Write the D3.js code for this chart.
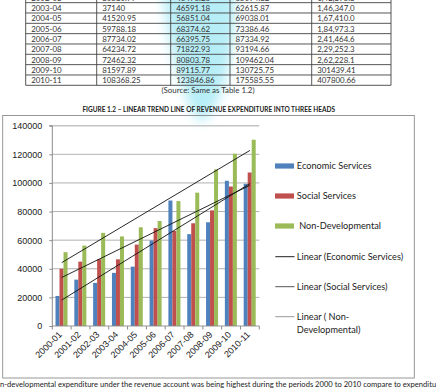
<!DOCTYPE html>
<html><head><meta charset="utf-8">
<script src="https://cdn.jsdelivr.net/npm/d3@7"></script>
<style>html,body{margin:0;padding:0;background:#fff;overflow:hidden}svg{display:block}</style>
</head><body>
<svg id="c" width="436" height="388"></svg>
<script>
// ---- table data ----
const tableYears = ["2002-03","2003-04","2004-05","2005-06","2006-07","2007-08","2008-09","2009-10","2010-11"];
const tableEcon = ["30830.77","37140","41520.95","59788.18","87734.02","64234.72","72462.32","81597.89","108368.25"];
const tableSocial = ["46470.26","46591.18","56851.04","68374.62","66395.75","71822.93","80803.78","89115.77","123846.86"];
const tableNonDev = ["65094.32","62615.87","69038.01","73386.46","87334.92","93194.66","109462.04","130725.75","175585.55"];
const tableTotal = ["1,42,395.3","1,46,347.0","1,67,410.0","1,84,973.3","2,41,464.6","2,29,252.3","2,62,228.1","301439.41","407800.66"];

// ---- chart data ----
const categories = ["2000-01","2001-02","2002-03","2003-04","2004-05","2005-06","2006-07","2007-08","2008-09","2009-10","2010-11"];
const seriesNames = ["Economic Services","Social Services","Non-Developmental"];
const econ   = [21000, 32400, 30100, 37140, 41500, 59800, 87700, 64200, 72500, 101500, 99400];
const social = [40000, 45000, 46700, 46600, 56900, 68400, 66400, 71800, 80800, 97500, 107300];
const nondev = [51600, 56200, 65100, 62600, 69000, 73400, 87300, 93200, 109500, 120400, 130200];
const yTicks = [0, 20000, 40000, 60000, 80000, 100000, 120000, 140000];
const legendLabels = ["Economic Services","Social Services"," Non-Developmental","Linear (Economic Services)","Linear (Social Services)","Linear ( Non-|Developmental)"];

const colors = ["#4F81BD","#C0504D","#9BBB59"];
const svg = d3.select("#c");

// watermark
const defs = svg.append("defs");
defs.append("filter").attr("id","blur").append("feGaussianBlur").attr("stdDeviation",6);
svg.append("path")
  .attr("d","M163,-10 L235,-10 C236,30 232,60 222,90 C214,112 205,122 200,122 C194,115 186,100 180,80 C170,50 165,20 163,-10 Z")
  .attr("fill","#9fe8f4").attr("opacity",0.75).attr("filter","url(#blur)");

// ---- table ----
const colX = [25.7, 96.7, 170.7, 230, 311.7, 391];
const rowH = 10.33, tableBottom = 85.3;
const nRows = tableYears.length;
const rowTop = i => tableBottom - (nRows - i) * rowH;
const tg = svg.append("g");
for (let i = 0; i <= nRows; i++) {
  const y = tableBottom - (nRows - i) * rowH;
  tg.append("line").attr("x1",colX[0]).attr("x2",colX[5]).attr("y1",y).attr("y2",y).attr("stroke","#444").attr("stroke-width",0.9);
}
colX.forEach(x => tg.append("line").attr("x1",x).attr("x2",x).attr("y1",rowTop(0)).attr("y2",tableBottom).attr("stroke","#444").attr("stroke-width",0.9));
const cols = [tableYears, tableEcon, tableSocial, tableNonDev, tableTotal];
cols.forEach((col, c) => {
  col.forEach((t, i) => {
    tg.append("text").attr("x", colX[c] + 5.5).attr("y", rowTop(i) + rowH/2 + 0.5)
      .attr("dy","0.35em").attr("font-family","Lato, 'Open Sans', sans-serif").attr("font-size",7.9)
      .attr("fill","#333").text(t);
  });
});
svg.append("text").attr("x",208).attr("y",90).attr("dy","0.35em").attr("text-anchor","middle")
  .attr("font-family","Lato, sans-serif").attr("font-size",7.9).attr("fill","#333").text("(Source: Same as Table 1.2)");
svg.append("text").attr("x",208.7).attr("y",109.3).attr("dy","0.35em").attr("text-anchor","middle")
  .attr("font-family","Lato, sans-serif").attr("font-size",6.5).attr("font-weight","bold").attr("fill","#222")
  .text("FIGURE 1.2 \u2013 LINEAR TREND LINE OF REVENUE EXPENDITURE INTO THREE HEADS");

// ---- chart box ----
svg.append("rect").attr("x",2.7).attr("y",115.5).attr("width",411.6).attr("height",262.5)
  .attr("fill","none").attr("stroke","#8c8c8c").attr("stroke-width",0.9);

const x0 = d3.scaleBand().domain(categories).range([52.3, 259.3]).padding(0);
const x1 = d3.scaleBand().domain(seriesNames).range([3.2, x0.bandwidth() - 3.6]);
const y = d3.scaleLinear().domain([0, 140000]).range([326, 125.7]);

const g = svg.append("g");
// gridlines
yTicks.forEach(t => {
  if (t === 0) return;
  g.append("line").attr("x1",52.3).attr("x2",259.3).attr("y1",y(t)).attr("y2",y(t))
    .attr("stroke", t === 140000 ? "#c4c4c4" : "#a8a8a8").attr("stroke-width", t === 140000 ? 1.6 : 0.9);
});
// y axis
const yAxis = d3.axisLeft(y).tickValues(yTicks).tickSize(3).tickPadding(7).tickFormat(d3.format("d"));
const ya = g.append("g").attr("transform","translate(52.3,0)").call(yAxis);
ya.select(".domain").attr("stroke","#8a8a8a").attr("d", `M-3,${y(140000)}H0V${y(0)}`);
ya.selectAll(".tick line").attr("stroke","#8a8a8a");
ya.selectAll("text").attr("font-family","'Liberation Sans', Arial, sans-serif").attr("font-size",9).attr("fill","#222");

// bars
const seriesData = [econ, social, nondev];
seriesData.forEach((vals, s) => {
  g.selectAll(null).data(vals).enter().append("rect")
    .attr("x", (d, i) => x0(categories[i]) + x1(seriesNames[s]))
    .attr("width", x1.bandwidth())
    .attr("y", d => y(d)).attr("height", d => y(0) - y(d))
    .attr("fill", colors[s]);
});

// x axis
g.append("line").attr("x1",52.3).attr("x2",259.3).attr("y1",y(0)).attr("y2",y(0)).attr("stroke","#8a8a8a").attr("stroke-width",0.9);
categories.forEach((c, i) => {
  const bx = x0(c);
  g.append("line").attr("x1",bx).attr("x2",bx).attr("y1",y(0)).attr("y2",y(0)+3.5).attr("stroke","#8a8a8a");
});
g.append("line").attr("x1",259.3).attr("x2",259.3).attr("y1",y(0)).attr("y2",y(0)+3.5).attr("stroke","#8a8a8a");
categories.forEach(c => {
  const cx = x0(c) + x0.bandwidth()/2 - 1.5;
  g.append("text").attr("transform",`translate(${cx},${y(0)+7})  rotate(-45)`)
    .attr("text-anchor","end").attr("dy","0.35em")
    .attr("font-family","'Liberation Sans', Arial, sans-serif").attr("font-size",9).attr("fill","#222").text(c);
});

// trend lines (least-squares linear fit of each series)
const trendColors = ["#111","#111","#111"];
seriesData.forEach((vals, s) => {
  const n = vals.length, mx = (n - 1) / 2, my = d3.mean(vals);
  let num = 0, den = 0;
  vals.forEach((v, i) => { num += (i - mx) * (v - my); den += (i - mx) * (i - mx); });
  const b = num / den, a = my - b * mx;
  g.append("line")
    .attr("x1", x0(categories[0]) + x0.bandwidth()/2).attr("y1", y(a))
    .attr("x2", x0(categories[n-1]) + x0.bandwidth()/2).attr("y2", y(a + b*(n-1)))
    .attr("stroke", trendColors[s]).attr("stroke-width",0.9);
});

// legend
const legY = [166, 196, 226, 256.7, 286.7, 316.7];
const lineLegColors = ["#222","#555","#999"];
legendLabels.forEach((lab, i) => {
  if (i < 3) {
    svg.append("rect").attr("x",275).attr("y",legY[i]-2.6).attr("width",19).attr("height",5.2).attr("fill",colors[i]);
  } else {
    svg.append("line").attr("x1",275.3).attr("x2",294.5).attr("y1",legY[i]).attr("y2",legY[i])
      .attr("stroke",lineLegColors[i-3]).attr("stroke-width",1);
  }
  const parts = lab.split("|");
  parts.forEach((p, k) => {
    svg.append("text").attr("x",296.8).attr("y",legY[i] + k*12.6).attr("dy","0.35em")
      .attr("xml:space","preserve").style("white-space","pre")
      .attr("font-family","Lato, 'Open Sans', sans-serif").attr("font-size",9.2).attr("fill","#222").text(p);
  });
});

// bottom text
svg.append("text").attr("x",0).attr("y",384).attr("dy","0.35em")
  .attr("font-family","Lato, sans-serif").attr("font-size",7.6).attr("fill","#222")
  .text("n-developmental expenditure under the revenue account was being highest during the periods 2000 to 2010 compare to expenditure");
</script>
</body></html>
